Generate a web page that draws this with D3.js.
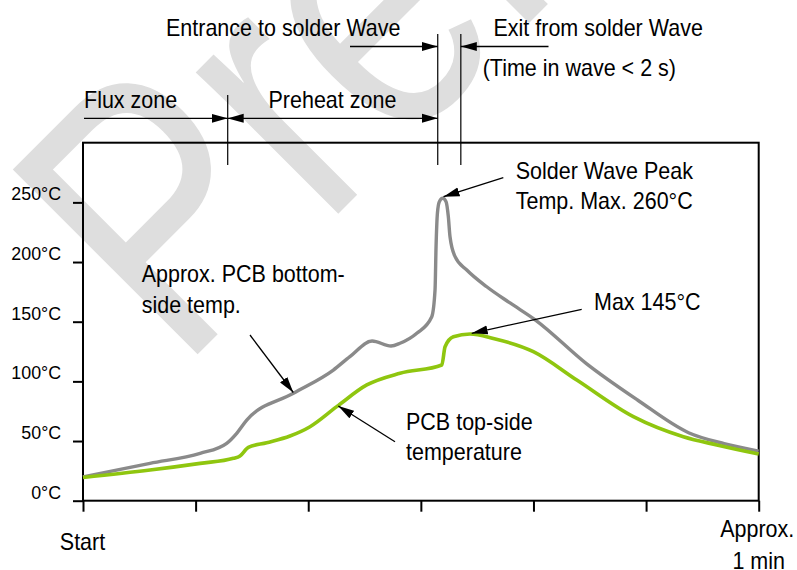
<!DOCTYPE html>
<html><head><meta charset="utf-8">
<script src="https://cdn.jsdelivr.net/npm/d3@7"></script>
<style>
body{margin:0;background:#fff}
svg{display:block}
text{font-family:"Liberation Sans",Arial,sans-serif;fill:#000}
</style>
</head><body>
<svg id="chart" width="797" height="570"></svg>
<script>
// ---- data ----
const bottomTime = [0,5.95,10.4,12.76,13.65,14.54,18.68,22.23,23.7,25.67,27.35,28.15,29.64,30.97,31.26,31.35,31.47,31.64,31.94,32.24,32.44,32.59,33.04,34.08,35.85,37.92,40.18,44.7,49.24,53.77,56.93,60];
const bottomTemp = [20,31.3,39.7,48.1,56.5,67.6,90,109.5,120.7,133.8,129.6,131.9,140.3,154.2,176.6,212.9,240.8,250.6,253.4,250.6,238,221.2,204.5,193.3,179.3,165.7,151.4,114.9,84.4,57,47.8,41.6];
const topTime = [0,5.95,10.4,13.36,13.94,14.68,16.31,18.38,20.16,22.53,25.2,28.15,31.86,32.15,32.89,34.37,36.44,39.99,43.85,48.87,53.31,56.28,60];
const topTemp = [19.5,25.7,31.3,35.5,37.5,44.7,48.6,54.2,62,78.8,97,106.8,113.7,129,137.4,139.7,136,124.9,101.1,70.4,53.6,46.7,39.1];
const yTickValues = [0,50,100,150,200,250];
const yTickLabels = ["0°C","50°C","100°C","150°C","200°C","250°C"];
const xTickValues = [0,10,20,30,40,50,60];
const xStartLabel = "Start";
const xEndLabel = ["Approx.","1 min"];
const fluxEnd = 12.85, waveEntry = 31.5, waveExit = 33.55;
const watermarkText = "Preliminary";

// ---- layout ----
const svg = d3.select("#chart");
const x = d3.scaleLinear().domain([0,60]).range([83,758.7]);
const y = d3.scaleLinear().domain([0,300]).range([500.7,142.7]);
const SX = 0.935;

// watermark
svg.append("text")
  .attr("transform","translate(180,372) rotate(-45) scale(0.8,1)")
  .style("font-size","380px").style("fill","#dedede")
  .text(watermarkText);

// markers
const defs = svg.append("defs");
defs.append("marker").attr("id","ah").attr("markerUnits","userSpaceOnUse")
  .attr("viewBox","0 -5 16 10").attr("refX",16).attr("refY",0)
  .attr("markerWidth",16).attr("markerHeight",10).attr("orient","auto-start-reverse")
  .append("path").attr("d","M0,-4.5L16,0L0,4.5Z").attr("fill","#000");

function label(lines, x0, y0, lh, anchor){
  lh = lh || 0;
  lines.forEach((s,i)=>{
    svg.append("text")
      .attr("transform",`translate(${x0},${y0+i*lh}) scale(${SX},1)`)
      .attr("text-anchor",anchor||"start")
      .style("font-size","23px").text(s);
  });
}
function arrow(x1,y1,x2,y2,both){
  const l = svg.append("line").attr("x1",x1).attr("y1",y1).attr("x2",x2).attr("y2",y2)
    .attr("stroke","#000").attr("stroke-width",1.3).attr("marker-end","url(#ah)");
  if(both) l.attr("marker-start","url(#ah)");
}

// frame
svg.append("rect").attr("x",x(0)).attr("y",y(300)).attr("width",x(60)-x(0)).attr("height",y(0)-y(300))
  .attr("fill","none").attr("stroke","#000").attr("stroke-width",2);

// axes
const ya = svg.append("g").attr("transform",`translate(${x(0)},0)`)
  .call(d3.axisLeft(y).tickValues(yTickValues).tickSize(10).tickPadding(12)
    .tickFormat((d,i)=>yTickLabels[i]));
ya.select(".domain").remove();
ya.selectAll(".tick line").attr("stroke","#000").attr("stroke-width",2);
ya.selectAll(".tick text").attr("dy",null).attr("y",-2.5).attr("x",-23)
  .style("font-size","18.8px").style("font-family","'Liberation Sans',Arial,sans-serif")
  .attr("transform","scale(0.95,1)").attr("fill","#000");

const xa = svg.append("g").attr("transform",`translate(0,${y(0)})`)
  .call(d3.axisBottom(x).tickValues(xTickValues).tickSize(11).tickFormat(""));
xa.select(".domain").remove();
xa.selectAll(".tick line").attr("stroke","#000").attr("stroke-width",2);

label([xStartLabel], x(0)-0.5, 550, 0, "middle");
label([xEndLabel[0]], x(60)-1.5, 537.3, 0, "middle");
label([xEndLabel[1]], x(60), 569, 0, "middle");

// zone lines
[[fluxEnd,95,165],[waveEntry,34,165],[waveExit,34,165]].forEach(([t,a,b])=>{
  svg.append("line").attr("x1",x(t)).attr("x2",x(t)).attr("y1",a).attr("y2",b)
    .attr("stroke","#000").attr("stroke-width",1.2);
});
arrow(x(0)+1,118.3,x(fluxEnd),118.3);
arrow(x(fluxEnd),118.3,x(waveEntry),118.3,true);
arrow(350,46.5,x(waveEntry),46.5);
arrow(548.5,46.5,x(waveExit),46.5);

label(["Entrance to solder Wave"],166,36);
label(["Exit from solder Wave"],493.5,36);
label(["(Time in wave < 2 s)"],482.7,76.3);
label(["Flux zone"],84,107.6);
label(["Preheat zone"],268.5,107.6);

// curves
const line = d3.line().x(d=>x(d[0])).y(d=>y(d[1])).curve(d3.curveMonotoneX);
svg.append("path").datum(d3.zip(bottomTime,bottomTemp)).attr("d",line)
  .attr("fill","none").attr("stroke","#8a8a8a").attr("stroke-width",3.4).attr("stroke-linejoin","round");
svg.append("path").datum(d3.zip(topTime,topTemp)).attr("d",line)
  .attr("fill","none").attr("stroke","#8fc60f").attr("stroke-width",3.6).attr("stroke-linejoin","round");

// annotations
label(["Solder Wave Peak","Temp. Max. 260°C"],515.7,178.5,30.6);
arrow(503.3,177.7,443.5,196.7);
label(["Max 145°C"],594,310);
arrow(581.7,309.3,471.7,333.3);
label(["Approx. PCB bottom-","side temp."],141.7,281.7,31.5);
arrow(250,335,293.3,392.5);
label(["PCB top-side","temperature"],406,430,29.5);
arrow(395,441.7,338.3,406);
</script>
</body></html>
